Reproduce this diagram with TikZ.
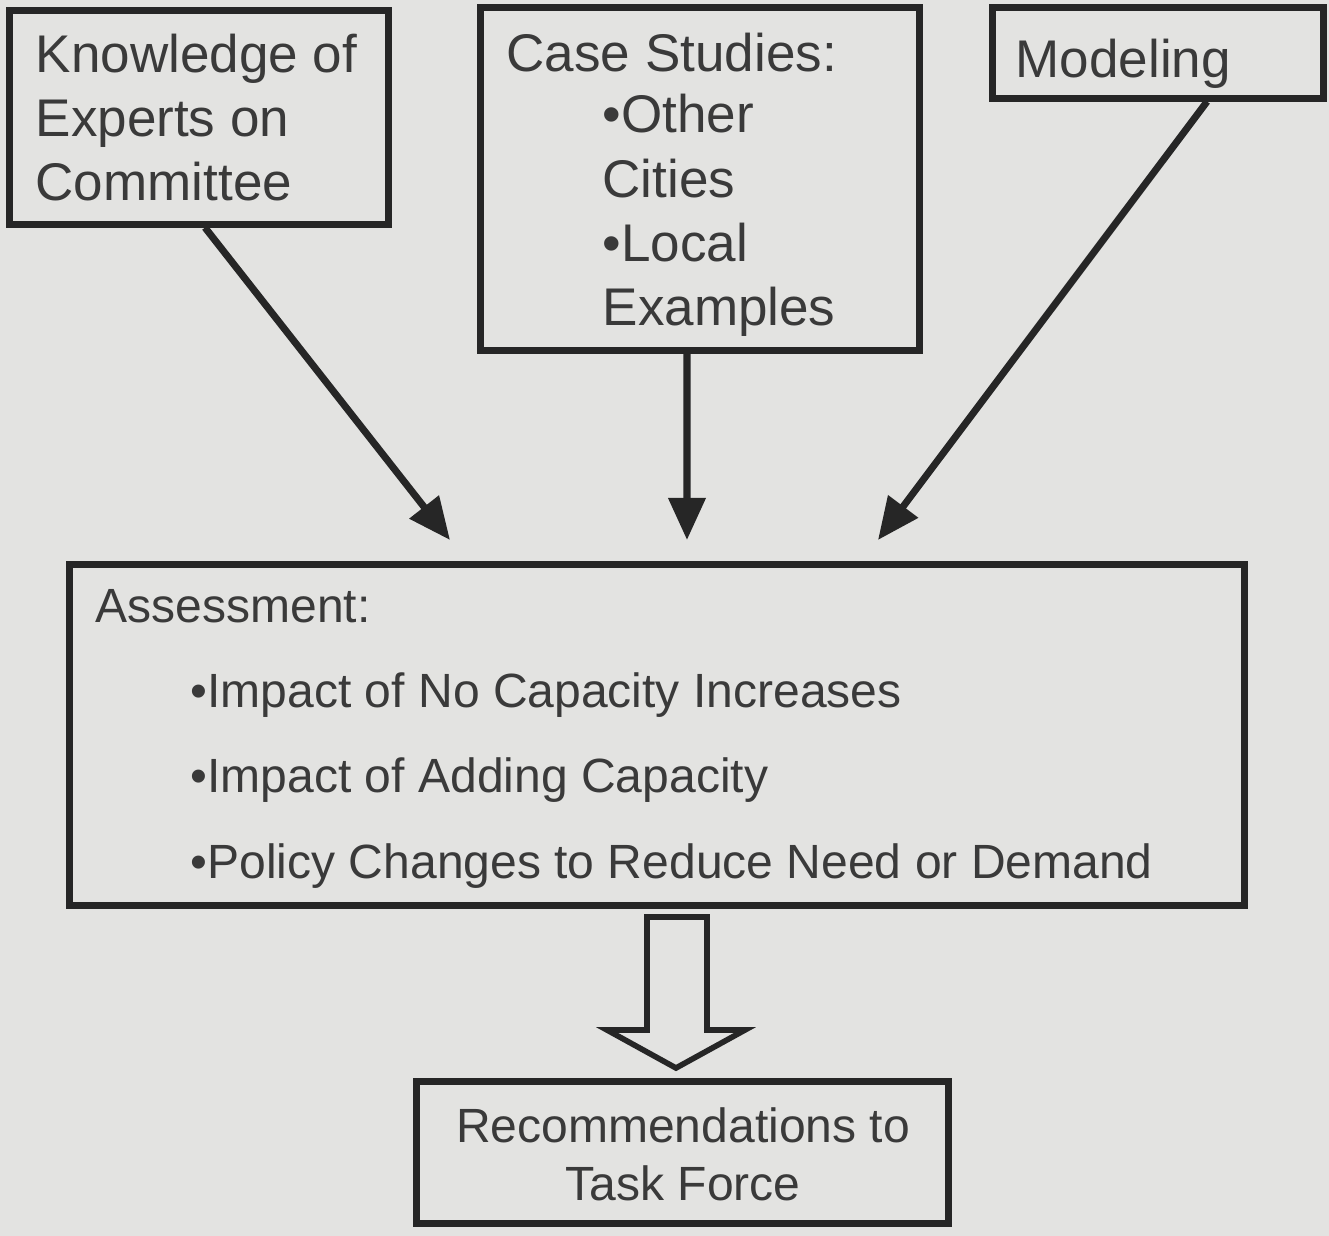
\documentclass[tikz,border=0pt]{standalone}
\usepackage{fontspec}
\setmainfont{Liberation Sans}
\usetikzlibrary{arrows.meta,calc}
\definecolor{paper}{HTML}{E3E3E1}
\definecolor{ink}{HTML}{3A3A3A}
\definecolor{rule}{HTML}{262626}
\begin{document}
\begin{tikzpicture}[x=0.01cm,y=-0.01cm,
  box/.style={draw=rule,line width=2pt,rectangle,inner sep=0pt},
  % multi-line texts are placed by the baseline of their last line
  bigtext/.style={text=ink,inner sep=0pt,anchor=base west,align=left,
    font=\fontsize{15.08pt}{18.2pt}\selectfont},
  smalltext/.style={text=ink,inner sep=0pt,anchor=base west,align=left,
    font=\fontsize{13.66pt}{24.18pt}\selectfont},
  arr/.style={draw=rule,line width=2pt,-{Triangle[length=0.42cm,width=0.36cm]}},
  blockarrow/.style={draw=rule,line width=1.6pt,fill=paper,line join=miter}]
  % page
  \fill[paper] (0,0) rectangle (1329,1236);
  \useasboundingbox (0,0) rectangle (1329,1236);

  % source boxes
  \node[box,minimum width=3.78cm,minimum height=2.13cm] (know) at (199,117.5) {};
  \node[box,minimum width=4.38cm,minimum height=3.42cm] (case) at (700,179) {};
  \node[box,minimum width=3.30cm,minimum height=0.90cm] (model) at (1158,53) {};
  % assessment and result
  \node[box,minimum width=11.74cm,minimum height=3.40cm] (assess) at (657,735) {};
  \node[box,minimum width=5.31cm,minimum height=1.41cm] (rec) at (682.5,1152.5) {};

  % texts
  \node[bigtext] (knowtxt) at (35,200) {Knowledge of\\Experts on\\Committee};
  \node[bigtext] (casehead) at (506,71) {Case Studies:};
  \node[bigtext] (caseitems) at (602,325) {•Other\\Cities\\•Local\\Examples};
  \node[bigtext] (modeltxt) at (1015,77) {Modeling};
  \node[smalltext] (assesshead) at (95,622) {Assessment:};
  \node[smalltext] (assessitems) at (190,878)
    {•Impact of No Capacity Increases\\•Impact of Adding Capacity\\•Policy Changes to Reduce Need or Demand};
  \node[text=ink,inner sep=0pt,anchor=base,align=center,
    font=\fontsize{13.66pt}{16.3pt}\selectfont] (rectxt) at (683,1200)
    {Recommendations to\\Task Force};

  % arrow tips above the assessment box
  \coordinate (tipL) at (450,540);
  \coordinate (tipM) at (687,540);
  \coordinate (tipR) at (878,540);
  \draw[arr] ([xshift=0.06cm]know.south) -- (tipL);
  \draw[arr] ([xshift=-0.13cm]case.south) -- (tipM);
  \draw[arr] ([xshift=0.49cm]model.south) -- (tipR);

  % hollow block arrow to the recommendations
  \coordinate (ba) at (677,917);
  \draw[blockarrow] ($(ba)+(-30,0)$) -- ($(ba)+(30,0)$) -- ($(ba)+(30,113)$)
    -- ($(ba)+(68,113)$) -- ($(ba)+(-1,151)$) -- ($(ba)+(-70,113)$)
    -- ($(ba)+(-30,113)$) -- cycle;
\end{tikzpicture}
\end{document}
